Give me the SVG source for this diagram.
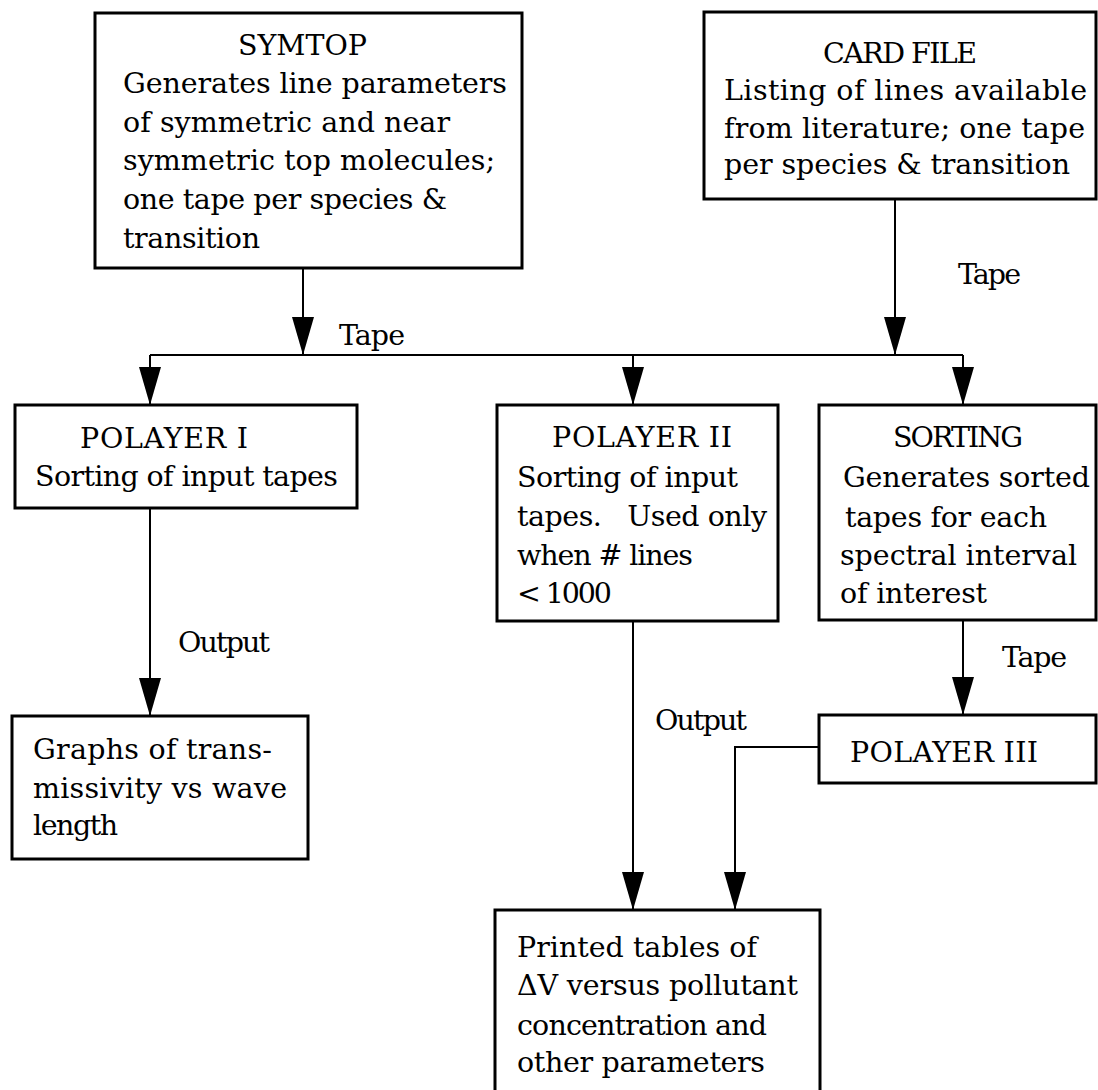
<svg xmlns="http://www.w3.org/2000/svg" width="1098" height="1090" viewBox="0 0 1098 1090">
<defs>
<style>
.box{fill:#fff;stroke:#000;stroke-width:3}
.con{fill:none;stroke:#000;stroke-width:2}
text{font-family:"DejaVu Serif","Liberation Serif",serif;font-size:28.5px;fill:#000;white-space:pre}
</style>
<marker id="ah" markerUnits="userSpaceOnUse" markerWidth="40" markerHeight="24" refX="38" refY="11" orient="auto" viewBox="0 0 40 24">
<path d="M0,0 L38,11 L0,22 Z" fill="#000"/>
</marker>
</defs>
<rect width="1098" height="1090" fill="#fff"/>
<g id="connectors">
<path class="con" d="M303,268 V355" marker-end="url(#ah)"/>
<path class="con" d="M895,199 V355" marker-end="url(#ah)"/>
<path class="con" d="M150,355 H963"/>
<path class="con" d="M150,355 V405" marker-end="url(#ah)"/>
<path class="con" d="M633,355 V405" marker-end="url(#ah)"/>
<path class="con" d="M963,355 V405" marker-end="url(#ah)"/>
<path class="con" d="M150,508 V716" marker-end="url(#ah)"/>
<path class="con" d="M633,621 V910" marker-end="url(#ah)"/>
<path class="con" d="M963,620 V715" marker-end="url(#ah)"/>
<path class="con" d="M819,747 H735 V910" marker-end="url(#ah)"/>
<text x="339" y="345" textLength="66">Tape</text>
<text x="958" y="284" textLength="63">Tape</text>
<text x="178" y="652" textLength="92">Output</text>
<text x="655" y="730" textLength="92">Output</text>
<text x="1002" y="667" textLength="65">Tape</text>
</g>
<g id="symtop">
<rect class="box" x="95" y="13" width="427" height="255"/>
<text x="238" y="55" textLength="129">SYMTOP</text>
<text x="123" y="93" textLength="384">Generates line parameters</text>
<text x="123" y="132" textLength="327">of symmetric and near</text>
<text x="123" y="170" textLength="372">symmetric top molecules;</text>
<text x="123" y="209" textLength="324">one tape per species &amp;</text>
<text x="123" y="248" textLength="137">transition</text>
</g>
<g id="cardfile">
<rect class="box" x="704" y="12" width="392" height="187"/>
<text x="823" y="63" textLength="154">CARD FILE</text>
<text x="724" y="100" textLength="363">Listing of lines available</text>
<text x="724" y="138" textLength="361">from literature; one tape</text>
<text x="724" y="174" textLength="346">per species &amp; transition</text>
</g>
<g id="polayer1">
<rect class="box" x="15" y="405" width="342" height="103"/>
<text x="80" y="448" textLength="168">POLAYER I</text>
<text x="35" y="486" textLength="303">Sorting of input tapes</text>
</g>
<g id="polayer2">
<rect class="box" x="497" y="405" width="281" height="216"/>
<text x="552" y="447" textLength="180">POLAYER II</text>
<text x="517" y="487" textLength="221">Sorting of input</text>
<text x="517" y="526" textLength="250" xml:space="preserve">tapes.   Used only</text>
<text x="517" y="565" textLength="176">when # lines</text>
<text x="517" y="603" textLength="95">&lt; 1000</text>
</g>
<g id="sorting">
<rect class="box" x="819" y="405" width="277" height="215"/>
<text x="893" y="447" textLength="130">SORTING</text>
<text x="843" y="487" textLength="247">Generates sorted</text>
<text x="845" y="527" textLength="202">tapes for each</text>
<text x="840" y="565" textLength="237">spectral interval</text>
<text x="840" y="603" textLength="147">of interest</text>
</g>
<g id="graphs">
<rect class="box" x="12" y="716" width="296" height="143"/>
<text x="33" y="759" textLength="239">Graphs of trans-</text>
<text x="33" y="798" textLength="254">missivity vs wave</text>
<text x="33" y="835" textLength="85">length</text>
</g>
<g id="polayer3">
<rect class="box" x="819" y="715" width="277" height="68"/>
<text x="850" y="762" textLength="188">POLAYER III</text>
</g>
<g id="tables">
<rect class="box" x="495" y="910" width="325" height="190"/>
<text x="517" y="957" textLength="240">Printed tables of</text>
<text x="517" y="995" textLength="281">ΔV versus pollutant</text>
<text x="517" y="1035" textLength="250">concentration and</text>
<text x="517" y="1072" textLength="248">other parameters</text>
</g>
</svg>
